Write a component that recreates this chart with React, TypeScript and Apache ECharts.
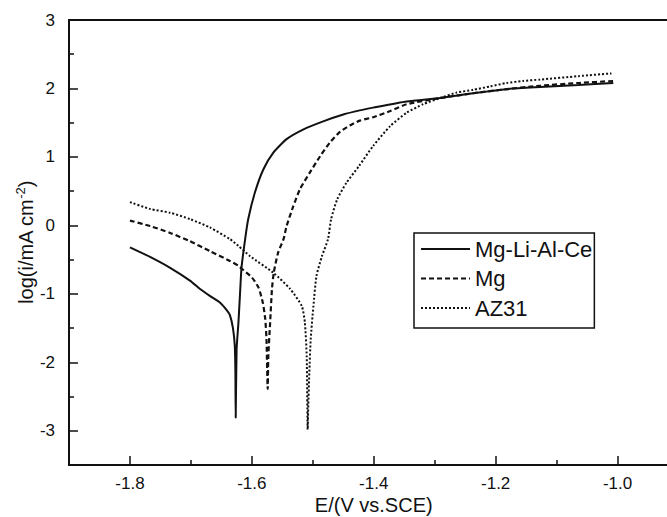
import React, { useEffect, useRef } from "react";
import * as echarts from "echarts";

const seriesNames = ["Mg-Li-Al-Ce", "Mg", "AZ31"];

const mgLiAlCe: [number, number][] = [
  [-1.8, -0.32], [-1.767, -0.46], [-1.734, -0.62], [-1.701, -0.81], [-1.685, -0.93],
  [-1.669, -1.03], [-1.652, -1.13], [-1.641, -1.24], [-1.636, -1.31], [-1.631, -1.5],
  [-1.628, -1.76], [-1.627, -2.15], [-1.6265, -2.81],
  [-1.625, -1.81], [-1.622, -1.42], [-1.619, -0.93], [-1.617, -0.62], [-1.611, -0.2],
  [-1.606, 0.09], [-1.595, 0.48], [-1.581, 0.82], [-1.565, 1.06], [-1.543, 1.26],
  [-1.516, 1.4], [-1.483, 1.52], [-1.45, 1.62], [-1.423, 1.68], [-1.401, 1.72],
  [-1.346, 1.81], [-1.291, 1.86], [-1.237, 1.93], [-1.182, 1.99], [-1.127, 2.02],
  [-1.064, 2.05], [-1.007, 2.08],
];

const mg: [number, number][] = [
  [-1.8, 0.07], [-1.767, -0.01], [-1.734, -0.11], [-1.702, -0.23], [-1.669, -0.375],
  [-1.636, -0.52], [-1.622, -0.59], [-1.617, -0.63], [-1.6, -0.76], [-1.589, -0.91],
  [-1.582, -1.13], [-1.578, -1.37], [-1.576, -1.66], [-1.574, -2.39],
  [-1.573, -1.91], [-1.57, -1.42], [-1.567, -0.93], [-1.564, -0.69], [-1.557, -0.4],
  [-1.548, -0.2], [-1.543, -0.01], [-1.532, 0.28], [-1.521, 0.53], [-1.505, 0.77],
  [-1.488, 1.01], [-1.472, 1.21], [-1.455, 1.37], [-1.439, 1.46], [-1.423, 1.53],
  [-1.401, 1.58], [-1.373, 1.67], [-1.346, 1.77], [-1.291, 1.86], [-1.237, 1.93],
  [-1.182, 1.99], [-1.127, 2.04], [-1.064, 2.08], [-1.005, 2.11],
];

const az31: [number, number][] = [
  [-1.8, 0.34], [-1.767, 0.24], [-1.734, 0.185], [-1.701, 0.09], [-1.669, -0.03],
  [-1.636, -0.2], [-1.622, -0.3], [-1.603, -0.45], [-1.565, -0.69], [-1.537, -0.93],
  [-1.518, -1.18], [-1.513, -1.42], [-1.51, -1.91], [-1.5084, -2.98],
  [-1.5074, -2.64], [-1.5057, -2.15], [-1.5034, -1.66], [-1.499, -1.18], [-1.494, -0.74],
  [-1.485, -0.45], [-1.475, -0.2], [-1.47, 0.09], [-1.46, 0.38], [-1.445, 0.62],
  [-1.424, 0.87], [-1.401, 1.16], [-1.373, 1.45], [-1.346, 1.645], [-1.319, 1.77],
  [-1.291, 1.86], [-1.264, 1.94], [-1.237, 1.98], [-1.209, 2.03], [-1.182, 2.08],
  [-1.155, 2.11], [-1.127, 2.13], [-1.064, 2.18], [-1.01, 2.22],
];

const xMajorTicks = [-1.8, -1.6, -1.4, -1.2, -1.0, -0.8];
const xMinorTicks = [-1.9, -1.7, -1.5, -1.3, -1.1, -0.9];
const yMajorTicks = [-3, -2, -1, 0, 1, 2, 3];
const yMinorTicks = [-2.5, -1.5, -0.5, 0.5, 1.5, 2.5];

const FONT = "Liberation Sans";
const INK = "#111111";

export default function App() {
  const ref = useRef<HTMLDivElement>(null);
  useEffect(() => {
    if (!ref.current) return;
    const chart = echarts.init(ref.current, null, { renderer: "svg" });
    const lineDefs = [
      { data: mgLiAlCe, type: "solid" as any, width: 2 },
      { data: mg, type: [5, 3] as any, width: 2.2 },
      { data: az31, type: [2, 2] as any, width: 2 },
    ];
    chart.setOption({
      animation: false,
      backgroundColor: "#fff",
      grid: {
        left: 69,
        top: 20,
        width: 609.5,
        height: 445,
        show: true,
        borderColor: INK,
        borderWidth: 2,
        containLabel: false,
        outerBoundsMode: "none",
      },
      legend: {
        orient: "vertical",
        left: 414,
        top: 233,
        data: seriesNames,
        borderColor: INK,
        borderWidth: 1.5,
        padding: [5, 2, 9, 6],
        itemWidth: 49,
        itemHeight: 14,
        itemGap: 7.5,
        itemStyle: { opacity: 0 },
        textStyle: { fontFamily: FONT, fontSize: 22, color: INK, lineHeight: 20 },
      },
      xAxis: [
        {
          type: "value",
          min: -1.9,
          max: -0.9,
          position: "bottom",
          axisLine: { show: true, onZero: false, lineStyle: { color: INK, width: 2 } },
          axisTick: { show: true, inside: true, length: 9, customValues: xMajorTicks, lineStyle: { color: INK, width: 1.5 } },
          axisLabel: {
            show: true,
            customValues: xMajorTicks,
            margin: 10,
            fontFamily: FONT,
            fontSize: 17,
            color: INK,
            formatter: (v: number) => v.toFixed(1),
          },
          splitLine: { show: false },
          name: "E/(V vs.SCE)",
          nameLocation: "middle",
          nameGap: 30,
          nameMoveOverlap: false,
          nameTextStyle: { fontFamily: FONT, fontSize: 20, color: INK },
        },
        {
          type: "value",
          min: -1.9,
          max: -0.9,
          position: "bottom",
          axisLine: { show: false, onZero: false },
          axisTick: { show: true, inside: true, length: 5, customValues: xMinorTicks, lineStyle: { color: INK, width: 1.5 } },
          axisLabel: { show: false },
          splitLine: { show: false },
        },
      ],
      yAxis: [
        {
          type: "value",
          min: -3.5,
          max: 3,
          position: "left",
          axisLine: { show: true, onZero: false, lineStyle: { color: INK, width: 2 } },
          axisTick: { show: true, inside: true, length: 9, customValues: yMajorTicks, lineStyle: { color: INK, width: 1.5 } },
          axisLabel: {
            show: true,
            customValues: yMajorTicks,
            margin: 14,
            fontFamily: FONT,
            fontSize: 17,
            color: INK,
            formatter: (v: number) => String(v),
          },
          splitLine: { show: false },
          name: "log(i/mA cm{sup|-2})",
          nameLocation: "middle",
          nameGap: 32,
          nameMoveOverlap: false,
          nameRotate: 90,
          nameTextStyle: {
            fontFamily: FONT,
            fontSize: 20,
            color: INK,
            rich: {
              sup: { fontFamily: FONT, fontSize: 13, color: INK, verticalAlign: "top", padding: [0, 0, 10, 0] },
            },
          },
        },
        {
          type: "value",
          min: -3.5,
          max: 3,
          position: "left",
          axisLine: { show: false, onZero: false },
          axisTick: { show: true, inside: true, length: 5, customValues: yMinorTicks, lineStyle: { color: INK, width: 1.5 } },
          axisLabel: { show: false },
          splitLine: { show: false },
        },
      ],
      series: lineDefs.map((d, i) => ({
        name: seriesNames[i],
        type: "line",
        xAxisIndex: 0,
        yAxisIndex: 0,
        data: d.data,
        showSymbol: false,
        symbol: "none",
        smooth: 0.2,
        color: INK,
        lineStyle: { color: INK, width: d.width, type: d.type },
      })),
    });
    return () => chart.dispose();
  }, []);
  return <div ref={ref} style={{ width: 667, height: 517, position: "absolute", left: 0, top: 0 }} />;
}
